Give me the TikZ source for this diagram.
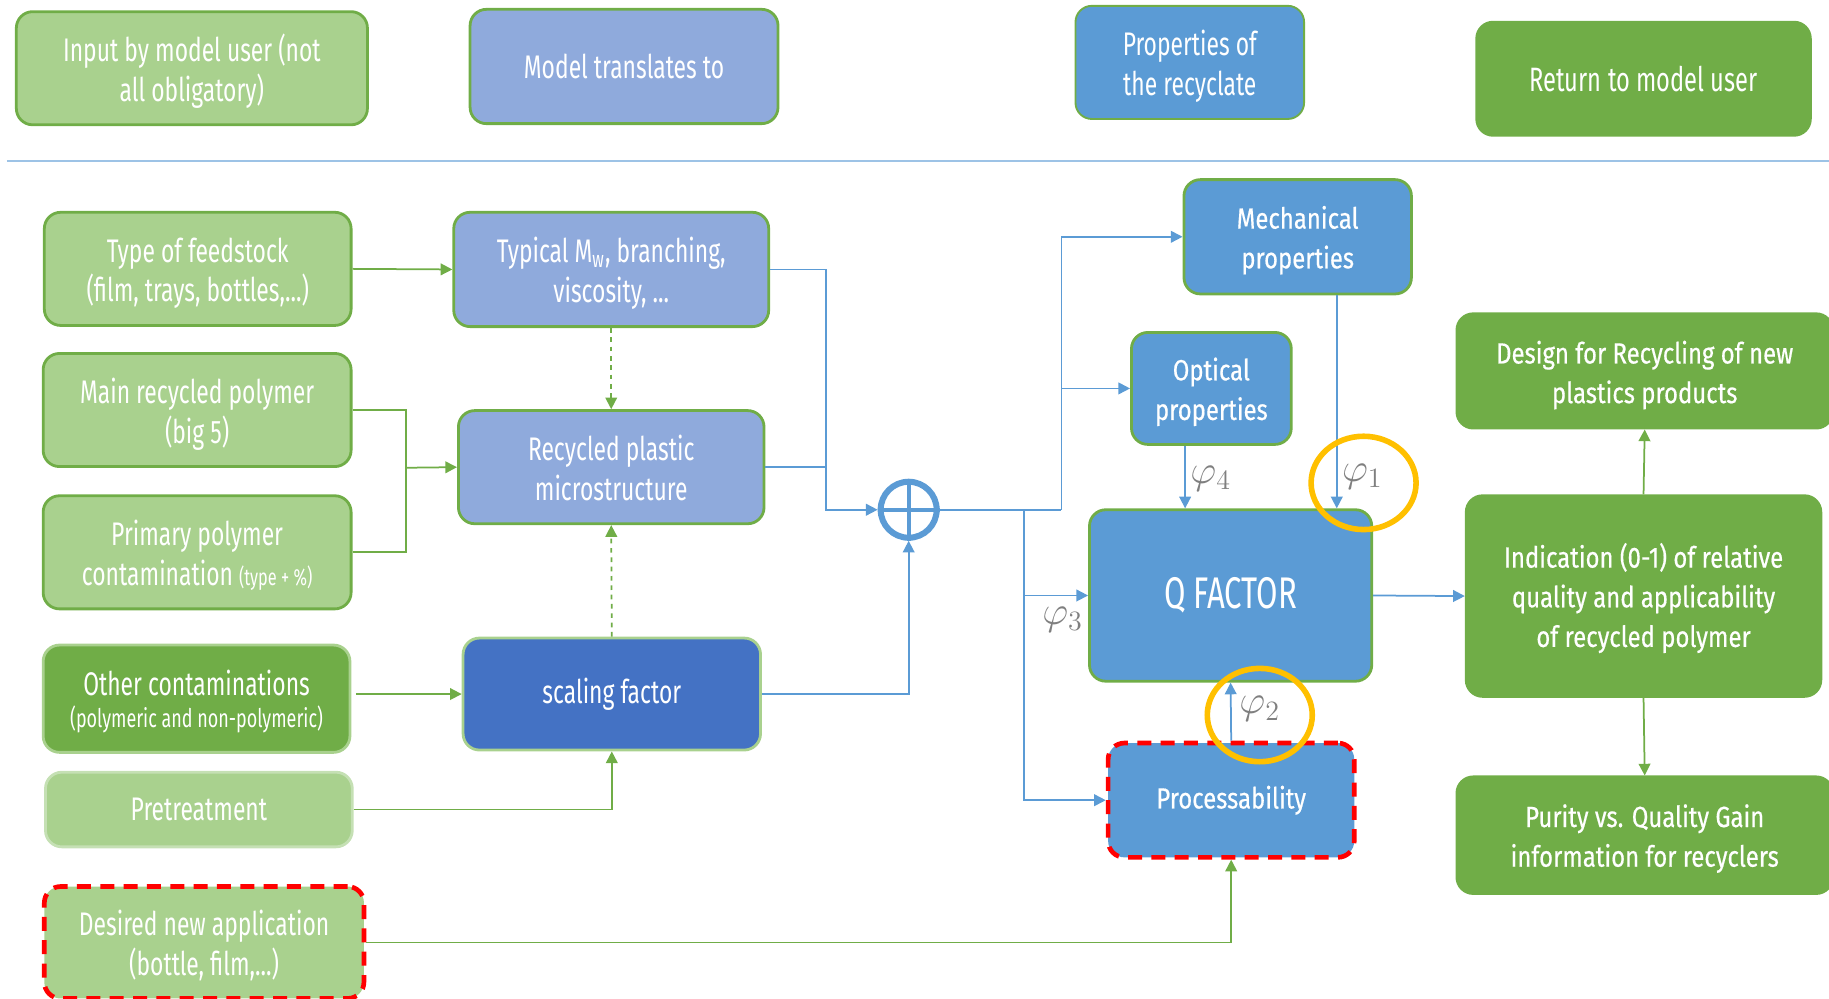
\documentclass[tikz,border=0pt]{standalone}
\usepackage{fontspec}
\setmainfont{Fira Sans}
\newfontfamily\narrowfont[FakeStretch=0.70]{Fira Sans}
\newfontfamily\widefont[FakeStretch=0.82,FakeBold=0.5]{Fira Sans}
\usetikzlibrary{arrows.meta,shapes.geometric,calc}

\definecolor{lgreen}{HTML}{A9D18E}
\definecolor{dgreen}{HTML}{70AD47}
\definecolor{pgreen}{HTML}{C5E0B4}
\definecolor{lav}{HTML}{8FAADC}
\definecolor{mblue}{HTML}{5B9BD5}
\definecolor{dblue}{HTML}{4472C4}
\definecolor{lineblue}{HTML}{9DC3E6}
\definecolor{gold}{HTML}{FFC000}
\definecolor{phigray}{HTML}{7F7F7F}

\tikzset{
  x=0.5pt, y=-0.5pt,
  box/.style={rounded corners=7pt, line width=1.2pt, text=white, align=center,
    inner sep=0pt, font=\narrowfont\fontsize{14}{17}\selectfont},
  % multi-line labels: fixed box height above the last baseline keeps them centred
  ml/.style={text height=28.4pt, text depth=0pt},
  wml/.style={text height=27pt, text depth=0pt},
  wml3/.style={text height=43.6pt, text depth=0pt},
  wbox/.style={box, font=\widefont\fontsize{12.5}{17}\selectfont},
  inbox/.style={box, fill=lgreen, draw=dgreen},
  modbox/.style={box, fill=lav, draw=dgreen},
  propbox/.style={wbox, fill=mblue, draw=dgreen},
  retbox/.style={wbox, fill=dgreen, draw=dgreen},
  reddash/.style={draw=red, line width=2pt, dash pattern=on 6pt off 4pt},
  tip/.style={-{Triangle[length=5pt,width=5pt]}},
  gline/.style={draw=dgreen, line width=0.75pt},
  bline/.style={draw=mblue, line width=0.75pt},
  ring/.style={draw=gold, line width=2.4pt, ellipse, inner sep=0pt},
  philab/.style={text=phigray, font=\fontsize{17}{17}\selectfont},
}

\begin{document}
\begin{tikzpicture}
\clip (0,0) rectangle (1568,856);

% legend row
\node[inbox, ml, minimum width=150.5pt, minimum height=48.5pt] (legIn) at (164.5,58.5) {Input by model user (not\\all obligatory)};
\node[modbox, minimum width=132pt, minimum height=49pt] (legMod) at (535,57) {Model translates to};
\node[box, ml, fill=mblue, draw=dgreen, line width=0.8pt, minimum width=98pt, minimum height=48.5pt] (legProp) at (1020,53.5) {Properties of\\the recyclate};
\node[box, fill=dgreen, draw=dgreen, minimum width=143pt, minimum height=48.5pt, font=\narrowfont\fontsize{14.5}{17}\selectfont] (legRet) at (1409,67.5) {Return to model user};
\draw[draw=lineblue, line width=1pt] (6,138) -- (1568,138);

% user inputs
\node[inbox, ml, minimum width=131.5pt, minimum height=48.5pt] (feed) at (169.5,230.5) {Type of feedstock\\(film, trays, bottles,...)};
\node[inbox, ml, minimum width=132pt, minimum height=48.5pt] (mainpol) at (169,351.5) {Main recycled polymer\\(big 5)};
\node[inbox, ml, minimum width=132pt, minimum height=48.5pt] (primpol) at (169,473.5) {Primary polymer\\contamination {\fontsize{10}{17}\selectfont(type + \%)}};
\node[box, fill=dgreen, draw=lgreen, text height=25pt, text depth=0pt, minimum width=131.5pt, minimum height=46pt] (othcont) at (168.5,599) {Other contaminations\\[-3.3pt]{\fontsize{11}{13.7}\selectfont(polymeric and non-polymeric)}};
\node[box, fill=lgreen, draw=pgreen, minimum width=131.5pt, minimum height=32pt] (pretr) at (170.5,694) {Pretreatment};
\node[box, ml, fill=lgreen, reddash, minimum width=137pt, minimum height=48pt] (desired) at (175,808) {Desired new application\\(bottle, film,...)};

% model translation
\node[modbox, ml, minimum width=135pt, minimum height=49pt] (typical) at (524,231) {Typical M\textsubscript{w}, branching,\\viscosity, ...};
\node[modbox, ml, minimum width=131pt, minimum height=48.5pt] (micro) at (524,400.5) {Recycled plastic\\microstructure};
\node[box, fill=dblue, draw=lgreen, minimum width=127.5pt, minimum height=48pt] (scaling) at (524.5,595) {scaling factor};

% summing junction
\node[circle, draw=mblue, line width=2.6pt, minimum size=24pt, inner sep=0pt] (sum) at (779,437) {};
\draw[draw=mblue, line width=1.8pt] (sum.north) -- (sum.south) (sum.west) -- (sum.east);

% recyclate properties
\node[propbox, wml, minimum width=97.5pt, minimum height=49pt] (mech) at (1112.5,203) {Mechanical\\properties};
\node[propbox, wml, minimum width=68.5pt, minimum height=48pt] (optic) at (1038.5,333) {Optical\\properties};
\node[box, fill=mblue, draw=dgreen, font=\narrowfont\fontsize{19}{20}\selectfont, minimum width=121pt, minimum height=73.5pt] (qf) at (1055,510.5) {Q FACTOR};
\node[wbox, fill=mblue, reddash, minimum width=105.5pt, minimum height=49pt] (proc) at (1055.5,686) {Processability};

% outputs
\node[retbox, wml, text height=27.6pt, minimum width=161pt, minimum height=49pt] (design) at (1410,318) {Design for Recycling of new\\plastics products};
\node[retbox, wml3, minimum width=152pt, minimum height=86pt] (indic) at (1409,511) {Indication (0-1) of relative\\quality and applicability\\of recycled polymer};
\node[retbox, wml, minimum width=161pt, minimum height=50pt] (purity) at (1410,716) {Purity vs. Quality Gain\\information for recyclers};

% branch points
\coordinate (mj) at (348,401);
\coordinate (bj) at (708,437);
\coordinate (sp) at (910,437);
\coordinate (sq) at (878,437);
\coordinate (optx) at (1016,0);
\coordinate (mechx) at (1146,0);

% green connectors
\draw[gline, tip] (feed.east) -- (typical.west);
\draw[gline] (mainpol.east) -| (mj);
\draw[gline] (primpol.east) -| (mj);
\draw[gline, tip] (mj) -- (micro.west);
\draw[gline, tip, dash pattern=on 2pt off 2pt] (typical.south) -- (micro.north);
\draw[gline, tip, dash pattern=on 2pt off 2pt] (scaling.north) -- (micro.south);
\draw[gline, tip] ($(othcont.east|-scaling.west)+(4,0)$) -- (scaling.west);
\draw[gline, tip] (pretr.east) -| (scaling.south);
\draw[gline, tip] (desired.east) -| (proc.south);
\draw[gline, tip] (indic.north) -- (design.south);
\draw[gline, tip] (indic.south) -- (purity.north);

% blue connectors
\draw[bline, tip] (typical.east) -| (bj) -- (sum.west);
\draw[bline] (micro.east) -- (micro.east -| bj);
\draw[bline, tip] (scaling.east) -| (sum.south);
\draw[bline] (sum.east) -- (sp);
\draw[bline, tip] (sp) |- (mech.west);
\draw[bline, tip] (sp |- optic.west) -- (optic.west);
\draw[bline, tip] (sq) |- (proc.west);
\draw[bline, tip] (sq |- qf.west) -- (qf.west);
\draw[bline, tip] (optic.south -| optx) -- (qf.north -| optx);
\draw[bline, tip] (mech.south -| mechx) -- (qf.north -| mechx);
\draw[bline, tip] (proc.north) -- (qf.south);
\draw[bline, tip] (qf.east) -- (indic.west);

% weights
\node[philab] (p4) at (1038,410) {$\varphi_4$};
\node[philab] (p1) at (1168,409) {$\varphi_1$};
\node[philab] (p2) at (1080,608) {$\varphi_2$};
\node[philab] (p3) at (911,531) {$\varphi_3$};
\node[ring, minimum width=45pt, minimum height=40pt] (r1) at (1169,414) {};
\node[ring, minimum width=45pt, minimum height=40pt] (r2) at (1080,613) {};
\end{tikzpicture}
\end{document}
